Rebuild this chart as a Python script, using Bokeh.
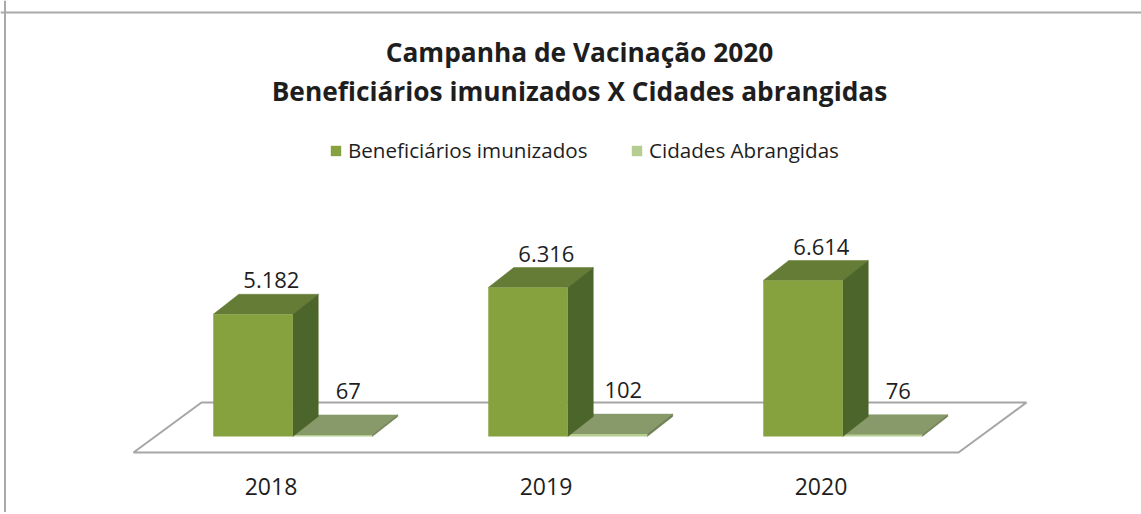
from bokeh.plotting import figure
from bokeh.models import Range1d, Label, Legend, LegendItem, Span
from bokeh.core.properties import value
from bokeh.embed import file_html
from bokeh.resources import INLINE

# ---------------- data ----------------
years = ["2018", "2019", "2020"]
beneficiarios = [5182, 6316, 6614]
cidades = [67, 102, 76]
benef_text = ["5.182", "6.316", "6.614"]
cidades_text = ["67", "102", "76"]
series_names = ["Beneficiários imunizados", "Cidades Abrangidas"]
title_lines = ["Campanha de Vacinação 2020", "Beneficiários imunizados X Cidades abrangidas"]

# ---------------- layout constants ----------------
W, H = 1141, 512
PX_X = 275.0          # pixels per category
K = 42.4              # value units per pixel
BASE_PX = 436         # pixel row of value 0
X0 = (0 - 270.5) / PX_X
Y0 = -(H - BASE_PX) * K
DX, DY = 25.5 / PX_X, 20 * K        # bar depth (oblique)
FDX, FDY = 68 / PX_X, 50 * K        # floor depth
FLOOR_FRONT = -16 * K
SHIFT = (16 / 50) * FDX             # bar front relative to floor front
BW = 79.5 / PX_X                    # bar width

FONT = "Open Sans"
TXT = "#1e1e1e"

S1_FRONT, S1_TOP, S1_SIDE = "#86a23f", "#647c35", "#4c652a"
S2_FRONT, S2_TOP, S2_SIDE = "#b5cd90", "#889a69", "#6e7f52"
BORDER = "#a9a9a9"

p = figure(width=W, height=H, x_range=Range1d(X0, X0 + W / PX_X),
           y_range=Range1d(Y0, Y0 + H * K), output_backend="svg",
           toolbar_location=None, min_border=0, x_axis_type=None, y_axis_type=None)
p.grid.visible = False
p.outline_line_color = None
p.background_fill_color = "white"

# chart border (top and left)
p.add_layout(Span(location=(BASE_PX - 12) * K, dimension="width", line_color=BORDER, line_width=2))
p.add_layout(Span(location=X0 + 4.5 / PX_X, dimension="height", line_color=BORDER, line_width=2))

# floor
n = len(years)
fl, fr = -0.5, n - 0.5
p.patch([fl, fr, fr + FDX, fl + FDX], [FLOOR_FRONT, FLOOR_FRONT, FLOOR_FRONT + FDY, FLOOR_FRONT + FDY],
        fill_color="white", line_color="#a6a6a6", line_width=2)


def faces(lefts, rights, vals):
    tx, ty, sx, sy = [], [], [], []
    for xl, xr, v in zip(lefts, rights, vals):
        tx.append([xl, xr, xr + DX, xl + DX]); ty.append([v, v, v + DY, v + DY])
        sx.append([xr, xr + DX, xr + DX, xr]); sy.append([0, DY, v + DY, v])
    return tx, ty, sx, sy


idx = list(range(n))
s1_l = [i + SHIFT - BW for i in idx]
s1_r = [i + SHIFT for i in idx]
s2_l = s1_r
s2_r = [i + SHIFT + BW for i in idx]

# series 2 (Cidades)
tx, ty, sx, sy = faces(s2_l, s2_r, cidades)
p.patches(tx, ty, fill_color=S2_TOP, line_color=S2_TOP, line_width=0.5)
p.patches(sx, sy, fill_color=S2_SIDE, line_color=S2_SIDE, line_width=0.5)
q2 = p.quad(left=s2_l, right=s2_r, bottom=[0] * n, top=cidades, fill_color=S2_FRONT, line_color=None)

# series 1 (Beneficiarios)
tx, ty, sx, sy = faces(s1_l, s1_r, beneficiarios)
p.patches(tx, ty, fill_color=S1_TOP, line_color=S1_TOP, line_width=0.5)
p.patches(sx, sy, fill_color=S1_SIDE, line_color=S1_SIDE, line_width=0.5)
q1 = p.quad(left=s1_l, right=s1_r, bottom=[0] * n, top=beneficiarios, fill_color=S1_FRONT, line_color=None)

# data labels
p.text(x=[(a + b) / 2 + 0.72 * DX for a, b in zip(s1_l, s1_r)], y=[v + DY for v in beneficiarios],
       text=benef_text, text_align="center", text_baseline="middle", y_offset=-14,
       text_font=value(FONT), text_font_size="22px", text_color=TXT)
p.text(x=[(a + b) / 2 + 0.62 * DX for a, b in zip(s2_l, s2_r)], y=[v + DY for v in cidades],
       text=cidades_text, text_align="center", text_baseline="middle", y_offset=-24,
       text_font=value(FONT), text_font_size="22px", text_color=TXT)

# category labels
p.text(x=idx, y=[FLOOR_FRONT] * n, text=years, text_align="center", text_baseline="middle",
       y_offset=34, text_font=value(FONT), text_font_size="23px", text_color=TXT)

# title
for txt, yc in zip(title_lines, [51, 90]):
    p.add_layout(Label(x=579, y=H - yc, x_units="screen", y_units="screen", text=txt,
                       text_align="center", text_baseline="middle", text_font=FONT,
                       text_font_size="26.3px", text_font_style="bold", text_color=TXT))

# legend (one block per entry so each sits where the reference has it)
for name, rend, gx in [(series_names[0], q1, 329), (series_names[1], q2, 630)]:
    lg = Legend(items=[LegendItem(label=name, renderers=[rend])], orientation="horizontal",
                location=(gx, H - 152 - 12), glyph_width=13, glyph_height=13, label_height=24,
                label_standoff=6, padding=0, margin=0, border_line_color=None,
                background_fill_alpha=0, label_text_font=FONT, label_text_font_size="20.6px",
                label_text_color=TXT)
    p.add_layout(lg)

open("out.html", "w").write(file_html(p, INLINE))
